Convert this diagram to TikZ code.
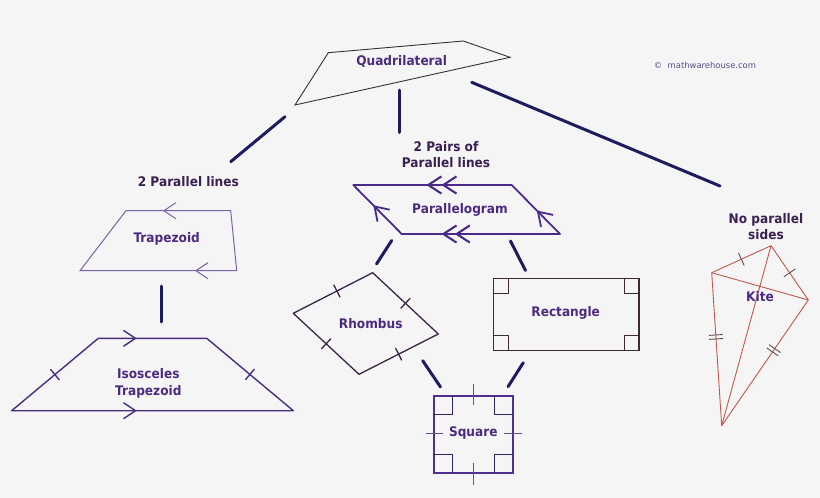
\documentclass[tikz,border=0pt]{standalone}
\usepackage{fontspec}
\setmainfont{DejaVu Sans}
\newfontfamily\lblfont[FakeStretch=0.92]{DejaVu Sans Bold}
\usetikzlibrary{decorations.markings,arrows.meta}
\definecolor{bgc}{HTML}{F5F5F5}
\definecolor{navyc}{HTML}{1C1C5E}
\definecolor{lblc}{HTML}{4B2A80}
\definecolor{hdrc}{HTML}{3A2050}
\definecolor{quadc}{HTML}{333333}
\definecolor{trapc}{HTML}{7A62A6}
\definecolor{isoc}{HTML}{4A2E7E}
\definecolor{parac}{HTML}{4A2A8A}
\definecolor{rhomc}{HTML}{3A2548}
\definecolor{rectc}{HTML}{3C2C30}
\definecolor{sqc}{HTML}{4E3090}
\definecolor{kitec}{HTML}{C0584D}
\definecolor{kitetk}{HTML}{6A4A4A}
\definecolor{copyc}{HTML}{5A4A8A}
\begin{document}
\begin{tikzpicture}[x=1pt,y=-1pt,
  conn/.style={draw=navyc,line width=3pt,line cap=round},
  lbl/.style={font=\lblfont\fontsize{13.2}{16.5}\selectfont,text=lblc,align=center,inner sep=0pt},
  hdr/.style={font=\lblfont\fontsize{13.2}{16}\selectfont,text=hdrc,align=center,inner sep=0pt},
  chev/.style={postaction={decorate},decoration={markings,mark=at position #1 with {\arrow{Straight Barb[length=12pt,width=16pt]}}}},
  bchev/.style={postaction={decorate},decoration={markings,mark=at position #1 with {\arrow{Straight Barb[length=13pt,width=17pt]}}}},
  tick/.style={postaction={decorate},decoration={markings,mark=at position #1 with {\draw (0,-7pt)--(0,7pt);}}},
  dtick/.style={postaction={decorate},decoration={markings,mark=at position #1 with {\draw (-2pt,-7pt)--(-2pt,7pt) (2pt,-7pt)--(2pt,7pt);}}}
]
\fill[bgc] (0,0) rectangle (820,498);
\useasboundingbox (0,0) rectangle (820,498);

% Quadrilateral
\draw[quadc,line width=0.9pt] (328.3,52.7) -- (463.3,41) -- (510,57.3) -- (295,105) -- cycle;
\node[lbl] (quad) at (401.7,61.7) {Quadrilateral};
\node[font=\fontsize{8.4}{10}\selectfont,text=copyc,inner sep=0pt] (copy) at (705,65.7) {©\ \ mathwarehouse.com};

% connector coordinates
\coordinate (qL) at (285,116.7);  \coordinate (tL) at (230.7,161.7);
\coordinate (qM) at (399,90);     \coordinate (pM) at (399,132.5);
\coordinate (qR) at (471.7,82.3); \coordinate (kR) at (720,186);
\coordinate (pRh) at (391.7,240.5); \coordinate (rhP) at (376.5,264);
\coordinate (pRe) at (510.5,241);   \coordinate (reP) at (525.5,270.5);
\coordinate (rhS) at (422.7,360.7); \coordinate (sRh) at (440.5,387);
\coordinate (reS) at (523.3,362.7); \coordinate (sRe) at (508,386.7);
\coordinate (tT) at (161,286);      \coordinate (iT) at (161,322);

\draw[conn] (qL) -- (tL);
\draw[conn] (qM) -- (pM);
\draw[conn] (qR) -- (kR);
\draw[conn] (pRh) -- (rhP);
\draw[conn] (pRe) -- (reP);
\draw[conn] (rhS) -- (sRh);
\draw[conn] (reS) -- (sRe);
\draw[conn] (tT) -- (iT);

% headers
\node[hdr] (two) at (188.3,181.5) {2 Parallel lines};
\node[hdr] (pairs) at (446,154.5) {2 Pairs of\\Parallel lines};
\node[hdr] (nopar) at (766,227) {No parallel\\sides};

% Trapezoid
\draw[trapc,line width=1pt] (126,210.7) -- (230.7,210.7) -- (236.7,270.7) -- (80,270.7) -- cycle;
\path[trapc,line width=1pt,chev=0.647] (230.7,210.7) -- (126,210.7);
\path[trapc,line width=1pt,chev=0.266] (236.7,270.7) -- (80,270.7);
\node[lbl] (trap) at (166.7,239) {Trapezoid};

% Isosceles trapezoid
\draw[isoc,line width=1.4pt,line join=round] (98.3,338.3) -- (206.7,338.3) -- (293.3,410.7) -- (11.7,410.7) -- cycle;
\path[isoc,line width=1.4pt,chev=0.354] (98.3,338.3) -- (206.7,338.3);
\path[isoc,line width=1.4pt,chev=0.444] (11.7,410.7) -- (293.3,410.7);
\path[isoc,line width=1.4pt,tick=0.5] (11.7,410.7) -- (98.3,338.3);
\path[isoc,line width=1.4pt,tick=0.5] (206.7,338.3) -- (293.3,410.7);
\node[lbl] (iso) at (148.3,383.3) {Isosceles\\Trapezoid};

% Parallelogram
\draw[parac,line width=1.8pt,line join=round] (353.3,185) -- (511.7,185) -- (560,234) -- (401.7,234) -- cycle;
\path[parac,line width=1.8pt,bchev=0.442,bchev=0.537] (511.7,185) -- (353.3,185);
\path[parac,line width=1.8pt,bchev=0.663,bchev=0.747] (560,234) -- (401.7,234);
\path[parac,line width=1.8pt,bchev=0.587] (401.7,234) -- (353.3,185);
\path[parac,line width=1.8pt,bchev=0.48] (560,234) -- (511.7,185);
\node[lbl] (para) at (460,210) {Parallelogram};

% Rhombus
\draw[rhomc,line width=1.3pt,line join=round] (372.7,272.7) -- (438.3,334) -- (359,374.3) -- (293.3,313.3) -- cycle;
\path[rhomc,line width=1.3pt,tick=0.55] (293.3,313.3) -- (372.7,272.7);
\path[rhomc,line width=1.3pt,tick=0.5] (372.7,272.7) -- (438.3,334);
\path[rhomc,line width=1.3pt,tick=0.5] (293.3,313.3) -- (359,374.3);
\path[rhomc,line width=1.3pt,tick=0.5] (359,374.3) -- (438.3,334);
\node[lbl] (rhom) at (370.7,323.3) {Rhombus};

% Rectangle
\draw[rectc,line width=1.4pt] (493.3,278.3) rectangle (639,350.7);
\draw[rectc,line width=1pt] (493.3,293.3) -| (508.3,278.3)
  (624,278.3) |- (639,293.3)
  (493.3,335.7) -| (508.3,350.7)
  (624,350.7) |- (639,335.7);
\node[lbl] (rect) at (565.7,313.3) {Rectangle};

% Square
\draw[sqc,line width=1.8pt] (434.3,395.7) rectangle (512.7,472.7);
\draw[sqc!70!black,line width=1pt] (434.3,414.2) -| (452.8,395.7)
  (494.2,395.7) |- (512.7,414.2)
  (434.3,454.2) -| (452.8,472.7)
  (494.2,472.7) |- (512.7,454.2);
\draw[sqc!60!gray,line width=1pt] (473.5,384) -- (473.5,405)
  (473.5,463) -- (473.5,485)
  (425.7,433.3) -- (443,433.3)
  (504,433.3) -- (521.7,433.3);
\node[lbl,fill=bgc,inner sep=1pt] (sq) at (473.3,433.3) {Square};

% Kite
\draw[kitec,line width=0.9pt,line join=round] (771,245.7) -- (808.3,300) -- (721.7,425.7) -- (711.7,272.7) -- cycle;
\draw[kitec,line width=0.9pt] (771,245.7) -- (721.7,425.7) (711.7,272.7) -- (808.3,300);
\path[kitetk,line width=0.9pt,tick=0.5] (711.7,272.7) -- (771,245.7);
\path[kitetk,line width=0.9pt,tick=0.5] (771,245.7) -- (808.3,300);
\path[kitetk,line width=0.9pt,dtick=0.42] (711.7,272.7) -- (721.7,425.7);
\path[kitetk,line width=0.9pt,dtick=0.4] (808.3,300) -- (721.7,425.7);
\node[lbl] (kite) at (760,297) {Kite};
\end{tikzpicture}
\end{document}
